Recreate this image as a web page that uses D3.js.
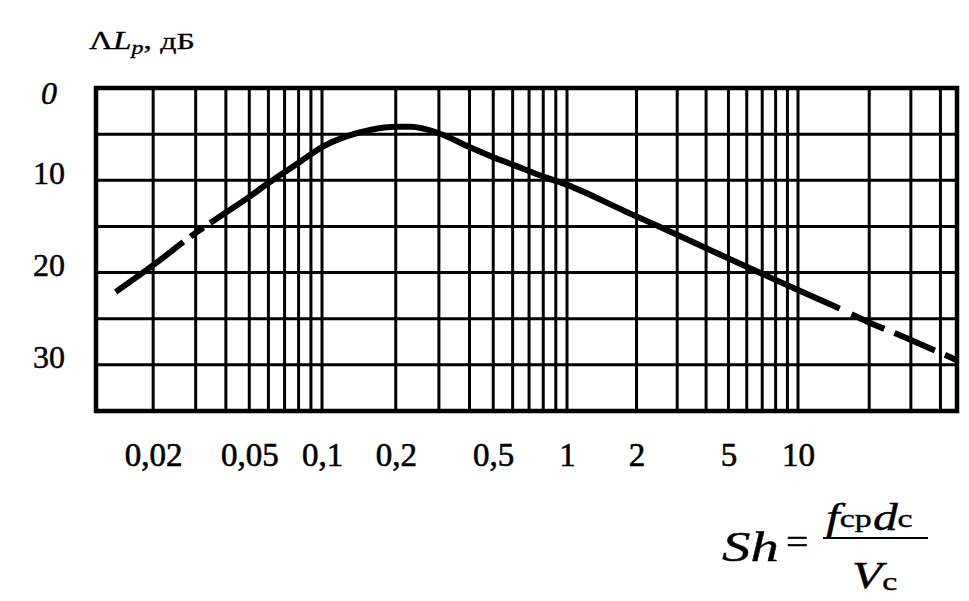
<!DOCTYPE html>
<html><head><meta charset="utf-8">
<script src="https://cdn.jsdelivr.net/npm/d3@7"></script>
<style>
body{margin:0;background:#fff}
svg{display:block}
text{font-family:"Liberation Serif","Times New Roman",serif;fill:#000}
</style>
</head><body>
<svg id="chart" width="969" height="601"></svg>
<script>
// ---- data ----
const shValues = [0.014, 0.02, 0.03, 0.035, 0.04, 0.05, 0.06, 0.08, 0.1, 0.157, 0.2, 0.23, 0.3, 0.4, 0.5, 0.6, 0.8, 1, 1.8, 2.6, 3.8, 6.8, 10, 15, 20, 30, 40, 47];
const dbValues = [22.1, 19.2, 15.7, 14.5, 13.5, 11.8, 10.3, 8.1, 6.4, 4.55, 4.2, 4.2, 4.9, 6.4, 7.5, 8.3, 9.6, 10.5, 13.4, 15.2, 17.1, 20.0, 21.9, 23.9, 25.4, 27.3, 28.7, 29.5];
const dashedStartEnd = 0.035;   // curve dashed below this Sh
const dashedEndStart = 15;      // curve dashed above this Sh
const xGridValues = [0.02,0.03,0.04,0.05,0.06,0.07,0.08,0.09,0.1,0.2,0.3,0.4,0.5,0.6,0.7,0.8,0.9,1,2,3,4,5,6,7,8,9,10,20,30,40];
const yGridValues = [5,10,15,20,25,30];
const xTickValues = [0.02,0.05,0.1,0.2,0.5,1,2,5,10];
const xTickLabels = ["0,02","0,05","0,1","0,2","0,5","1","2","5","10"];
const yTickValues = [0,10,20,30];
const yTickLabels = ["0","10","20","30"];

// ---- scales ----
const x = d3.scaleLog().domain([0.0116, 0.1, 1, 10, 47]).range([96, 322, 567, 798, 957]);
const y = d3.scaleLinear().domain([0, 35]).range([88, 411]);
const xr = x.range();
const [x0, x1] = [xr[0], xr[xr.length - 1]];
const [y0, y1] = y.range();

const svg = d3.select("#chart");
svg.append("rect").attr("width", 969).attr("height", 601).attr("fill", "#fff");

// ---- grid ----
const g = svg.append("g");
g.selectAll("line.v").data(xGridValues).join("line")
  .attr("x1", d => x(d)).attr("x2", d => x(d))
  .attr("y1", y0).attr("y2", y1)
  .attr("stroke", "#000").attr("stroke-width", 3);
g.selectAll("line.h").data(yGridValues).join("line")
  .attr("x1", x0).attr("x2", x1)
  .attr("y1", d => y(d)).attr("y2", d => y(d))
  .attr("stroke", "#000").attr("stroke-width", 3);
g.append("rect").attr("x", x0).attr("y", y0)
  .attr("width", x1 - x0).attr("height", y1 - y0)
  .attr("fill", "none").attr("stroke", "#000").attr("stroke-width", 4.5);

// ---- curve ----
const pts = shValues.map((s, i) => ({sh: s, db: dbValues[i]}));
const line = d3.line().x(d => x(d.sh)).y(d => y(d.db)).curve(d3.curveMonotoneX);
const partA = pts.filter(d => d.sh <= dashedStartEnd);
const partB = pts.filter(d => d.sh >= dashedStartEnd && d.sh <= dashedEndStart);
const partC = pts.filter(d => d.sh >= dashedEndStart);
svg.append("path").attr("d", line(partA)).attr("fill", "none").attr("stroke", "#000")
  .attr("stroke-width", 6).attr("stroke-dasharray", "84,9,16,8,400");
svg.append("path").attr("d", line(partB)).attr("fill", "none").attr("stroke", "#000")
  .attr("stroke-width", 6).attr("stroke-linejoin", "round");
svg.append("path").attr("d", line(partC)).attr("fill", "none").attr("stroke", "#000")
  .attr("stroke-width", 6).attr("stroke-dasharray", "0,13,36,11,44,11,40");

// ---- tick labels ----
const xAxis = d3.axisBottom(x).tickValues(xTickValues)
  .tickFormat((d, i) => xTickLabels[i]).tickSize(0).tickPadding(0);
const xa = svg.append("g").attr("transform", "translate(0,466)").call(xAxis);
xa.select(".domain").remove();
xa.selectAll("text").attr("y", 0).attr("dy", 0)
  .style("font-family", '"Liberation Serif", serif').style("font-size", "33px")
  .attr("fill", "#000").attr("stroke", "#000").attr("stroke-width", 0.6);

const yAxis = d3.axisLeft(y).tickValues(yTickValues)
  .tickFormat((d, i) => yTickLabels[i]).tickSize(0).tickPadding(0);
const ya = svg.append("g").call(yAxis);
ya.select(".domain").remove();
ya.selectAll("text").attr("x", 49).attr("text-anchor", "middle")
  .attr("dy", d => d === 0 ? 15 : 3)
  .style("font-family", '"Liberation Serif", serif').style("font-size", "32px")
  .style("font-style", d => d === 0 ? "italic" : "normal")
  .attr("fill", "#000").attr("stroke", "#000").attr("stroke-width", 0.5);

// ---- y title: ΛL_p, дБ ----
const yt = svg.append("text").attr("transform", "translate(89,49) scale(1.33,1)")
  .style("font-size", "25px").attr("stroke", "#000").attr("stroke-width", 0.3);
yt.append("tspan").text("Λ");
yt.append("tspan").style("font-style", "italic").text("L");
yt.append("tspan").style("font-style", "italic").style("font-size", "18px").attr("dy", 5).text("p");
yt.append("tspan").attr("dy", -5).text(", ");
yt.append("tspan").style("font-size", "24px").text("дБ");

// ---- x title: Sh = f_cp d_c / V_c ----
const ft = svg.append("g").attr("stroke", "#000").attr("stroke-width", 0.4);
ft.append("text").attr("transform", "translate(722,561) scale(1.32,1)")
  .style("font-size", "43px").style("font-style", "italic").text("Sh");
ft.append("text").attr("transform", "translate(786,554) scale(1.1,1)")
  .style("font-size", "36px").text("=");
const num = ft.append("text").attr("transform", "translate(826,530) scale(1.3,1)").style("font-size", "38px");
num.append("tspan").style("font-style", "italic").text("f");
num.append("tspan").style("font-size", "26px").attr("dy", -3).text("cp");
num.append("tspan").style("font-style", "italic").attr("dy", 3).attr("dx", 1).text("d");
num.append("tspan").style("font-size", "26px").attr("dy", -3).text("c");
ft.append("line").attr("x1", 823).attr("x2", 928).attr("y1", 538).attr("y2", 538)
  .attr("stroke", "#000").attr("stroke-width", 2.2);
const den = ft.append("text").attr("transform", "translate(852,588) scale(1.3,1)").style("font-size", "38px");
den.append("tspan").style("font-style", "italic").text("V");
den.append("tspan").style("font-size", "26px").attr("dy", 2).text("c");
</script>
</body></html>
